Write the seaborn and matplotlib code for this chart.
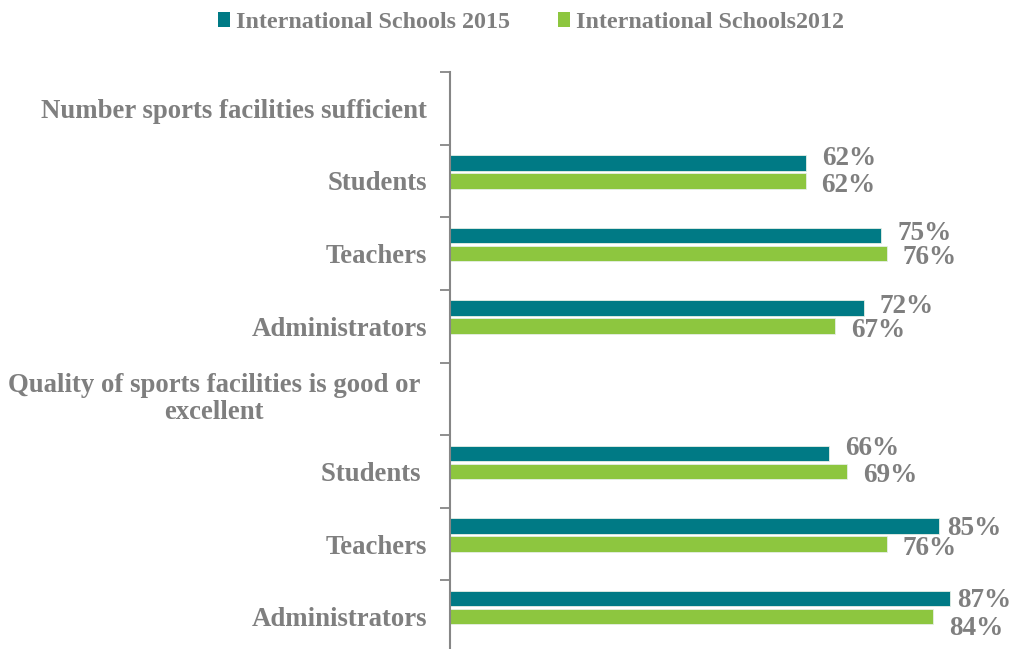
import numpy as np
import pandas as pd
import matplotlib
matplotlib.use("Agg")
import matplotlib.pyplot as plt
import matplotlib.transforms as mtransforms
from matplotlib.patches import Patch
import seaborn as sns

# Survey rows, top to bottom (section headers carry no values)
row_labels = [
    "Number sports facilities sufficient",
    "Students",
    "Teachers",
    "Administrators",
    "Quality of sports facilities is good or\nexcellent",
    "Students ",
    "Teachers",
    "Administrators",
]
series_names = ["International Schools 2015", "International Schools2012"]
values_2015 = [np.nan, 62, 75, 72, np.nan, 66, 85, 87]
values_2012 = [np.nan, 62, 76, 67, np.nan, 69, 76, 84]

teal = "#007A85"
green = "#8DC63F"
grey = "#7F7F7F"
axis_grey = "#868686"

# label placement relative to the bar end / bar centre, in pixels
# (gap to the right, vertical shift downwards) so neighbouring labels don't collide
label_gap_2015 = [0, 16, 16, 16, 0, 16, 8, 7]
label_dy_2015 = [0, -7.5, -4.5, -4, 0, -8, 0, -1]
label_gap_2012 = [0, 15, 16, 16, 0, 16, 16, 16]
label_dy_2012 = [0, 1.5, 1, 2, 0, 1.5, 2, 9]

sns.set_theme(style="white")
plt.rcParams["font.family"] = ["Liberation Serif", "DejaVu Serif"]
plt.rcParams["font.weight"] = "bold"

row_keys = [f"r{i}" for i in range(len(row_labels))]
spacer = "_spacer"
df = pd.DataFrame({
    "row": row_keys * 3,
    "series": [series_names[0]] * len(row_keys)
              + [series_names[1]] * len(row_keys)
              + [spacer] * len(row_keys),
    "value": list(values_2015) + list(values_2012) + [np.nan] * len(row_keys),
})

DPI = 100
fig = plt.figure(figsize=(10.18, 6.49), dpi=DPI)
ax = fig.add_axes([450 / 1018, 1 - 653 / 649, 1 - 450 / 1018, (653 - 72) / 649])

bar_width = 0.744
sns.barplot(
    data=df, x="value", y="row", hue="series",
    order=row_keys, hue_order=series_names + [spacer],
    palette=[teal, green, "white"], saturation=1, orient="y",
    width=bar_width, gap=0.14, errorbar=None, legend=False,
    edgecolor="#e6efe6", linewidth=0.6, ax=ax,
)

ax.set_xlim(0, 98.8)
ax.set_ylim(len(row_keys) - 0.5, -0.5)
ax.set_xlabel("")
ax.set_ylabel("")
ax.set_xticks([])

for side in ["top", "right", "bottom"]:
    ax.spines[side].set_visible(False)
ax.spines["left"].set_color(axis_grey)
ax.spines["left"].set_linewidth(1.5)

label_size = 19.3
value_size = 19.5

# labels at row centres, tick marks on row boundaries
tick_text = [("" if i == 4 else lab) for i, lab in enumerate(row_labels)]
ax.set_yticks(range(len(row_keys)))
ax.set_yticklabels(tick_text, fontsize=label_size, color=grey, fontweight="bold")
ax.set_yticks(np.arange(-0.5, len(row_keys), 1.0), minor=True)
ax.tick_params(axis="y", which="major", length=0, pad=16.5)
ax.tick_params(axis="y", which="minor", length=7, width=1.3,
               color=axis_grey, left=True, direction="out")

# two-line section header, centred under itself
blend = mtransforms.blended_transform_factory(fig.transFigure, ax.transData)
ax.text(214 / 1018, 4, row_labels[4], transform=blend, ha="center",
        va="center", multialignment="center", fontsize=label_size,
        color=grey, fontweight="bold", linespacing=1.12)

# value labels beside each bar; digits are centred on the given point
px_to_pt = 72 / DPI
digit_half = 0.676 * value_size / px_to_pt / 2
slot = bar_width / 3
for vals, gaps, shifts, off in ((values_2015, label_gap_2015, label_dy_2015, -slot),
                                (values_2012, label_gap_2012, label_dy_2012, 0.0)):
    for i, v in enumerate(vals):
        if np.isnan(v):
            continue
        ax.annotate(f"{v:.0f}%", xy=(v, i + off),
                    xytext=(gaps[i] * px_to_pt, -(shifts[i] + digit_half) * px_to_pt),
                    textcoords="offset points", ha="left", va="baseline",
                    fontsize=value_size, color=grey, fontweight="bold",
                    annotation_clip=False)

handles = [Patch(facecolor=teal, edgecolor="none"),
           Patch(facecolor=green, edgecolor="none")]
fig.legend(handles, series_names, loc="upper center",
           bbox_to_anchor=(531 / 1018, 1.015), ncol=2, frameon=False,
           handlelength=0.5, handleheight=0.55, handletextpad=0.25,
           columnspacing=2.0, prop={"size": 17.3, "weight": "bold"},
           labelcolor=grey)

fig.savefig("out.png", dpi=DPI)
